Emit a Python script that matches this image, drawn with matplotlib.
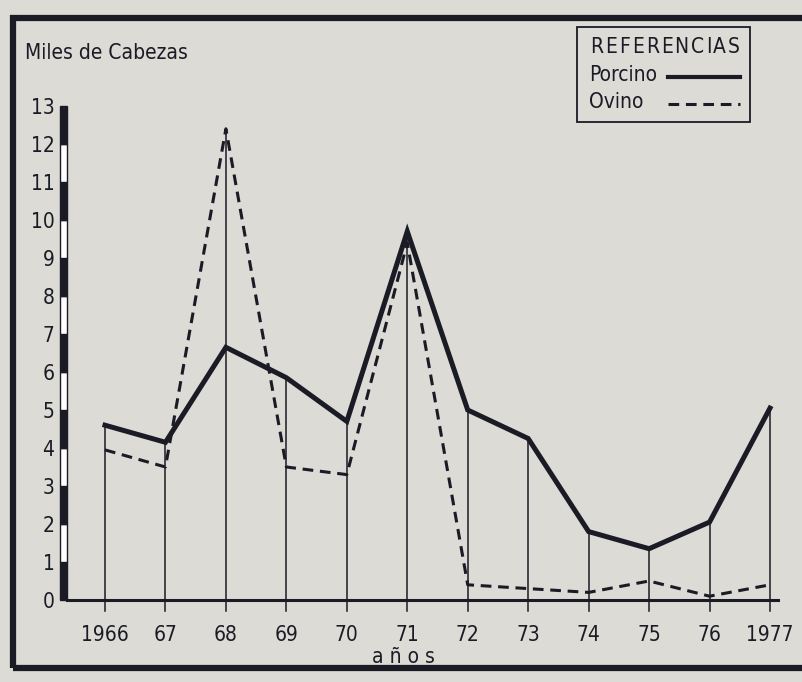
import matplotlib
matplotlib.use("Agg")
import matplotlib.pyplot as plt
from matplotlib.patches import Rectangle
from matplotlib.lines import Line2D
import matplotlib.transforms as mtransforms
from matplotlib import font_manager

# ---- data ----
years = [1966, 1967, 1968, 1969, 1970, 1971, 1972, 1973, 1974, 1975, 1976, 1977]
year_labels = ["1966", "67", "68", "69", "70", "71", "72", "73", "74", "75", "76", "1977"]
porcino = [4.6, 4.15, 6.65, 5.85, 4.7, 9.7, 5.0, 4.25, 1.8, 1.35, 2.05, 5.05]
ovino = [3.95, 3.5, 12.4, 3.5, 3.3, 9.4, 0.4, 0.3, 0.2, 0.5, 0.1, 0.4]
y_ticks = list(range(0, 14))

INK = "#1b1b26"
BG = "#dcdbd5"

names = {f.name for f in font_manager.fontManager.ttflist}
FAM = "Liberation Sans Narrow" if "Liberation Sans Narrow" in names else "DejaVu Sans"
plt.rcParams["font.family"] = [FAM, "DejaVu Sans"]
if FAM == "DejaVu Sans":
    plt.rcParams["font.stretch"] = "condensed"

fig = plt.figure(figsize=(8.03, 6.82), dpi=100, facecolor=BG)

W, H = 803, 682
x0, x1 = 67, 778
y0, y13 = 600, 106
ax = fig.add_axes([x0 / W, (H - y0) / H, (x1 - x0) / W, (y0 - y13) / H])
ax.set_facecolor("none")
step = (770 - 105) / 11
ax.set_xlim(years[0] - (105 - x0) / step, years[-1] + (x1 - 770) / step)
ax.set_ylim(0, 13)

for s in ["top", "right", "left"]:
    ax.spines[s].set_visible(False)
ax.spines["bottom"].set_linewidth(2.2)
ax.spines["bottom"].set_color(INK)

for x, p, o in zip(years, porcino, ovino):
    ax.plot([x, x], [-0.3, max(p, o)], color=INK, lw=1.1, clip_on=False, zorder=2)

ax.plot(years, ovino, color=INK, lw=2.2, dashes=(3.5, 2.2), zorder=3)
ax.plot(years, porcino, color=INK, lw=3.6, zorder=4, solid_joinstyle="miter")

trans = mtransforms.blended_transform_factory(ax.transAxes, ax.transData)
bw = 7 / (x1 - x0)
for i in range(len(y_ticks) - 1):
    fc = INK if i % 2 == 0 else "white"
    ax.add_patch(Rectangle((-bw, y_ticks[i]), bw, 1, transform=trans, facecolor=fc,
                           edgecolor=INK, lw=1.0, clip_on=False, zorder=5))

FS = 15
ax.set_yticks(y_ticks)
ax.set_yticklabels([str(t) for t in y_ticks], fontsize=FS, color=INK)
ax.tick_params(axis="y", length=0, pad=9)
ax.set_xticks(years)
ax.set_xticklabels(year_labels, fontsize=FS, color=INK)
ax.tick_params(axis="x", length=0, pad=18)

fig.text(25 / W, 1 - 53 / H, "Miles de Cabezas", fontsize=FS, color=INK,
         ha="left", va="center")
fig.text(403 / W, 1 - 657 / H, "a ñ o s", fontsize=FS, color=INK, ha="center", va="center")

fig.patches.append(Rectangle((13 / W, 1 - 668 / H), 830 / W, (668 - 18) / H,
                             transform=fig.transFigure, facecolor="none",
                             edgecolor=INK, lw=4.5, zorder=0))

lx0, ly0, lx1, ly1 = 577, 27, 750, 122
fig.patches.append(Rectangle((lx0 / W, 1 - ly1 / H), (lx1 - lx0) / W, (ly1 - ly0) / H,
                             transform=fig.transFigure, facecolor="none",
                             edgecolor=INK, lw=1.3))

# letter-spaced title
title = "REFERENCIAS"
renderer = fig.canvas.get_renderer()
chars = [fig.text(0, 1 - 47 / H, ch, fontsize=FS, color=INK, ha="left", va="center")
         for ch in title]
widths = [c.get_window_extent(renderer).width for c in chars]
tx0, tx1 = 590, 740
gap = (tx1 - tx0 - sum(widths)) / (len(title) - 1)
cx = tx0
for c, w in zip(chars, widths):
    c.set_x(cx / W)
    cx += w + gap

fig.text(589 / W, 1 - 75 / H, "Porcino", fontsize=FS, color=INK, ha="left", va="center")
fig.text(589 / W, 1 - 102 / H, "Ovino", fontsize=FS, color=INK, ha="left", va="center")
fig.lines.append(Line2D([668 / W, 740 / W], [1 - 77 / H, 1 - 77 / H], transform=fig.transFigure,
                        color=INK, lw=3.0))
fig.lines.append(Line2D([668 / W, 740 / W], [1 - 104 / H, 1 - 104 / H], transform=fig.transFigure,
                        color=INK, lw=2.2, dashes=(3.5, 2.2)))

fig.savefig("out.png", dpi=100, facecolor=BG)
